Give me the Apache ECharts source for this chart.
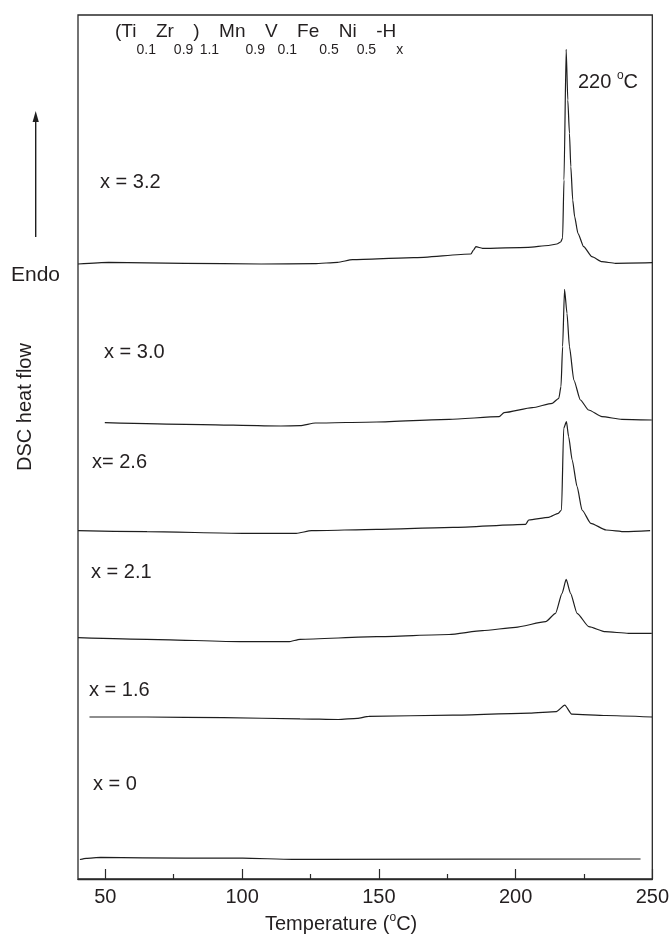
<!DOCTYPE html>
<html>
<head>
<meta charset="utf-8">
<script src="https://cdn.jsdelivr.net/npm/echarts@6/dist/echarts.min.js"></script>
<style>
  html, body { margin: 0; padding: 0; background: #fff; }
  #chart { width: 672px; height: 939px; }
</style>
</head>
<body>
<div id="chart"></div>
<script>
// DSC traces of (Ti0.1Zr0.9)1.1Mn0.9V0.1Fe0.5Ni0.5-Hx, stacked by hydrogen content.
// Temperature in °C, heat flow in arbitrary units (curves already offset for stacking).
const temp_x32 = [40, 51.2, 79.1, 107, 126.5, 134.9, 140.4, 162.7, 183.7, 184.6, 185.5, 187.9, 204.6, 212, 215.1, 216.5, 217.2, 217.7, 218.5, 219.1, 219.7, 220.2, 220.9, 221.6, 222.8, 224.9, 227.9, 231.6, 236.5, 250];
const flow_x32 = [615, 616.7, 615.7, 615, 615.3, 616.7, 619.3, 621.3, 625, 629, 632.3, 630.7, 631.7, 633.5, 635, 637, 641, 699, 829.7, 779, 745.7, 712.3, 679, 662.3, 645.7, 632.3, 622.3, 617.3, 615.7, 616.3];

const temp_x30 = [49.8, 79.2, 114.2, 121.2, 126.8, 149.2, 175.7, 194, 195.8, 206.1, 213.4, 215.8, 216.6, 217.2, 217.9, 218.8, 219.7, 221.3, 223.7, 226.7, 231.6, 238.9, 249.8];
const flow_x30 = [456.3, 454.7, 453, 453.3, 456, 457, 459.7, 462.3, 466.3, 471.3, 475.7, 480.7, 492.3, 532.3, 589.7, 565.7, 532.3, 499, 479, 469, 462.3, 459.7, 459];

const temp_x26 = [40, 65.2, 100.2, 119.8, 125.4, 149.2, 177.1, 203.7, 204.8, 212.1, 215.6, 216.8, 217.6, 218.6, 219.4, 220.7, 222.5, 224.3, 227.5, 233.1, 240.1, 249.2];
const flow_x26 = [348.3, 347.3, 345.7, 345.7, 348.3, 349.7, 351.7, 354.7, 359, 361.7, 365.7, 369, 450.7, 457.3, 442.3, 419, 392.3, 369, 355.7, 349, 347.3, 348.3];

const temp_x21 = [40, 65.2, 100.2, 117, 121.2, 149.2, 175.7, 187.9, 200, 211, 214.6, 217, 218.5, 220.1, 222.5, 226.8, 232.8, 241.3, 249.8];
const flow_x21 = [241.3, 239.7, 237.3, 237.3, 239.7, 242.3, 244.5, 248.3, 251.7, 257.3, 265.7, 285.7, 299.7, 285.7, 265.7, 252.3, 247.3, 245.7, 245.7];

const temp_x16 = [44.2, 65.2, 93.2, 121.2, 135.2, 142.1, 146.3, 177.1, 205.1, 214.9, 218, 220.5, 233.1, 249.9];
const flow_x16 = [162, 162, 161.3, 160.2, 159.5, 160.6, 162.7, 163.8, 165.9, 167.4, 173.8, 164.9, 163.5, 162];

const temp_x0 = [40.7, 43, 48.3, 79.2, 100.2, 118.4, 127.3, 245.7];
const flow_x0 = [19.5, 20.7, 21.6, 20.8, 20.8, 19.7, 19.7, 20];

const sampleLabels = ['x = 3.2', 'x = 3.0', 'x= 2.6', 'x = 2.1', 'x = 1.6', 'x = 0'];
const xTickValues = [50, 100, 150, 200, 250];
const xMinorTickValues = [75, 125, 175, 225];

const FONT = '"Liberation Sans", Arial, Helvetica, sans-serif';
const INK = '#231f20';
const LINE = '#1e1e1e';

const traces = [
  [temp_x32, flow_x32],
  [temp_x30, flow_x30],
  [temp_x26, flow_x26],
  [temp_x21, flow_x21],
  [temp_x16, flow_x16],
  [temp_x0, flow_x0]
];

const series = traces.map(([t, h], i) => ({
  name: sampleLabels[i],
  type: 'line',
  xAxisIndex: 0,
  yAxisIndex: 0,
  showSymbol: false,
  symbol: 'none',
  smooth: 0.2,
  smoothMonotone: 'x',
  lineStyle: { color: LINE, width: 1.2 },
  data: t.map((v, k) => [v, h[k]]),
  animation: false
}));

// label placement: [left px, vertical centre px]
const labelSpots = [[100, 182], [104, 352], [92, 462], [91, 572], [89, 690], [93, 784]];

const labelGraphics = sampleLabels.map((txt, i) => ({
  type: 'text',
  x: labelSpots[i][0],
  y: labelSpots[i][1],
  style: {
    text: txt,
    fill: INK,
    font: '20px ' + FONT,
    align: 'left',
    verticalAlign: 'middle'
  }
}));

const chart = echarts.init(document.getElementById('chart'), null, { renderer: 'canvas' });

chart.setOption({
  backgroundColor: '#ffffff',
  animation: false,
  grid: {
    left: 78, right: 18, top: 15, bottom: 60,
    show: true,
    borderColor: '#2a2a2a',
    borderWidth: 1.3,
    backgroundColor: 'transparent'
  },
  xAxis: [
    {
      type: 'value', min: 40, max: 250, position: 'bottom',
      axisLine: { show: true, onZero: false, lineStyle: { color: '#2a2a2a', width: 1.3 } },
      axisTick: { show: true, inside: true, length: 10, customValues: xTickValues, lineStyle: { color: '#2a2a2a', width: 1.2 } },
      axisLabel: { show: true, customValues: xTickValues, color: INK, fontSize: 20, fontFamily: FONT, margin: 8 },
      splitLine: { show: false }
    },
    {
      type: 'value', min: 40, max: 250, position: 'bottom',
      axisLine: { show: false },
      axisTick: { show: true, inside: true, length: 5, customValues: xMinorTickValues, lineStyle: { color: '#2a2a2a', width: 1.2 } },
      axisLabel: { show: false },
      splitLine: { show: false }
    }
  ],
  yAxis: {
    type: 'value', min: 0, max: 864, show: false
  },
  series: series,
  graphic: [
    // compound formula
    {
      type: 'text',
      left: 115, top: 22,
      style: {
        text: '{m|(Ti}{s|0.1}{m|Zr}{s|0.9}{m|)}{s|1.1}{m|Mn}{s|0.9}{m|V}{s|0.1}{m|Fe}{s|0.5}{m|Ni}{s|0.5}{m|-H}{s|x}',
        fill: INK,
        rich: {
          m: { fontSize: 19, fontFamily: FONT, lineHeight: 51, fill: INK },
          s: { fontSize: 14, fontFamily: FONT, lineHeight: 14, verticalAlign: 'bottom', fill: INK }
        }
      }
    },
    // peak temperature annotation
    {
      type: 'text',
      left: 578, top: 70,
      style: {
        text: '{m|220 }{u|o}{m|C}',
        fill: INK,
        rich: {
          m: { fontSize: 20, fontFamily: FONT, lineHeight: 24, fill: INK },
          u: { fontSize: 12, fontFamily: FONT, lineHeight: 12, verticalAlign: 'top', fill: INK }
        }
      }
    },
    // x-axis title
    {
      type: 'text',
      left: 265, top: 912,
      style: {
        text: '{m|Temperature (}{u|o}{m|C)}',
        fill: INK,
        rich: {
          m: { fontSize: 20, fontFamily: FONT, lineHeight: 24, fill: INK },
          u: { fontSize: 12, fontFamily: FONT, lineHeight: 12, verticalAlign: 'top', fill: INK }
        }
      }
    },
    // y-axis title
    {
      type: 'text',
      x: 25, y: 407,
      rotation: Math.PI / 2,
      style: { text: 'DSC heat flow', fill: INK, font: '20px ' + FONT, align: 'center', verticalAlign: 'middle' }
    },
    // endothermic direction
    {
      type: 'text',
      x: 11, y: 275,
      style: { text: 'Endo', fill: INK, font: '21px ' + FONT, align: 'left', verticalAlign: 'middle' }
    },
    {
      type: 'line',
      shape: { x1: 35.7, y1: 237, x2: 35.7, y2: 120 },
      style: { stroke: '#1e1e1e', lineWidth: 1.4 }
    },
    {
      type: 'polygon',
      shape: { points: [[35.7, 111], [32.6, 122], [38.8, 122]] },
      style: { fill: '#1e1e1e' }
    }
  ].concat(labelGraphics)
});
</script>
</body>
</html>
